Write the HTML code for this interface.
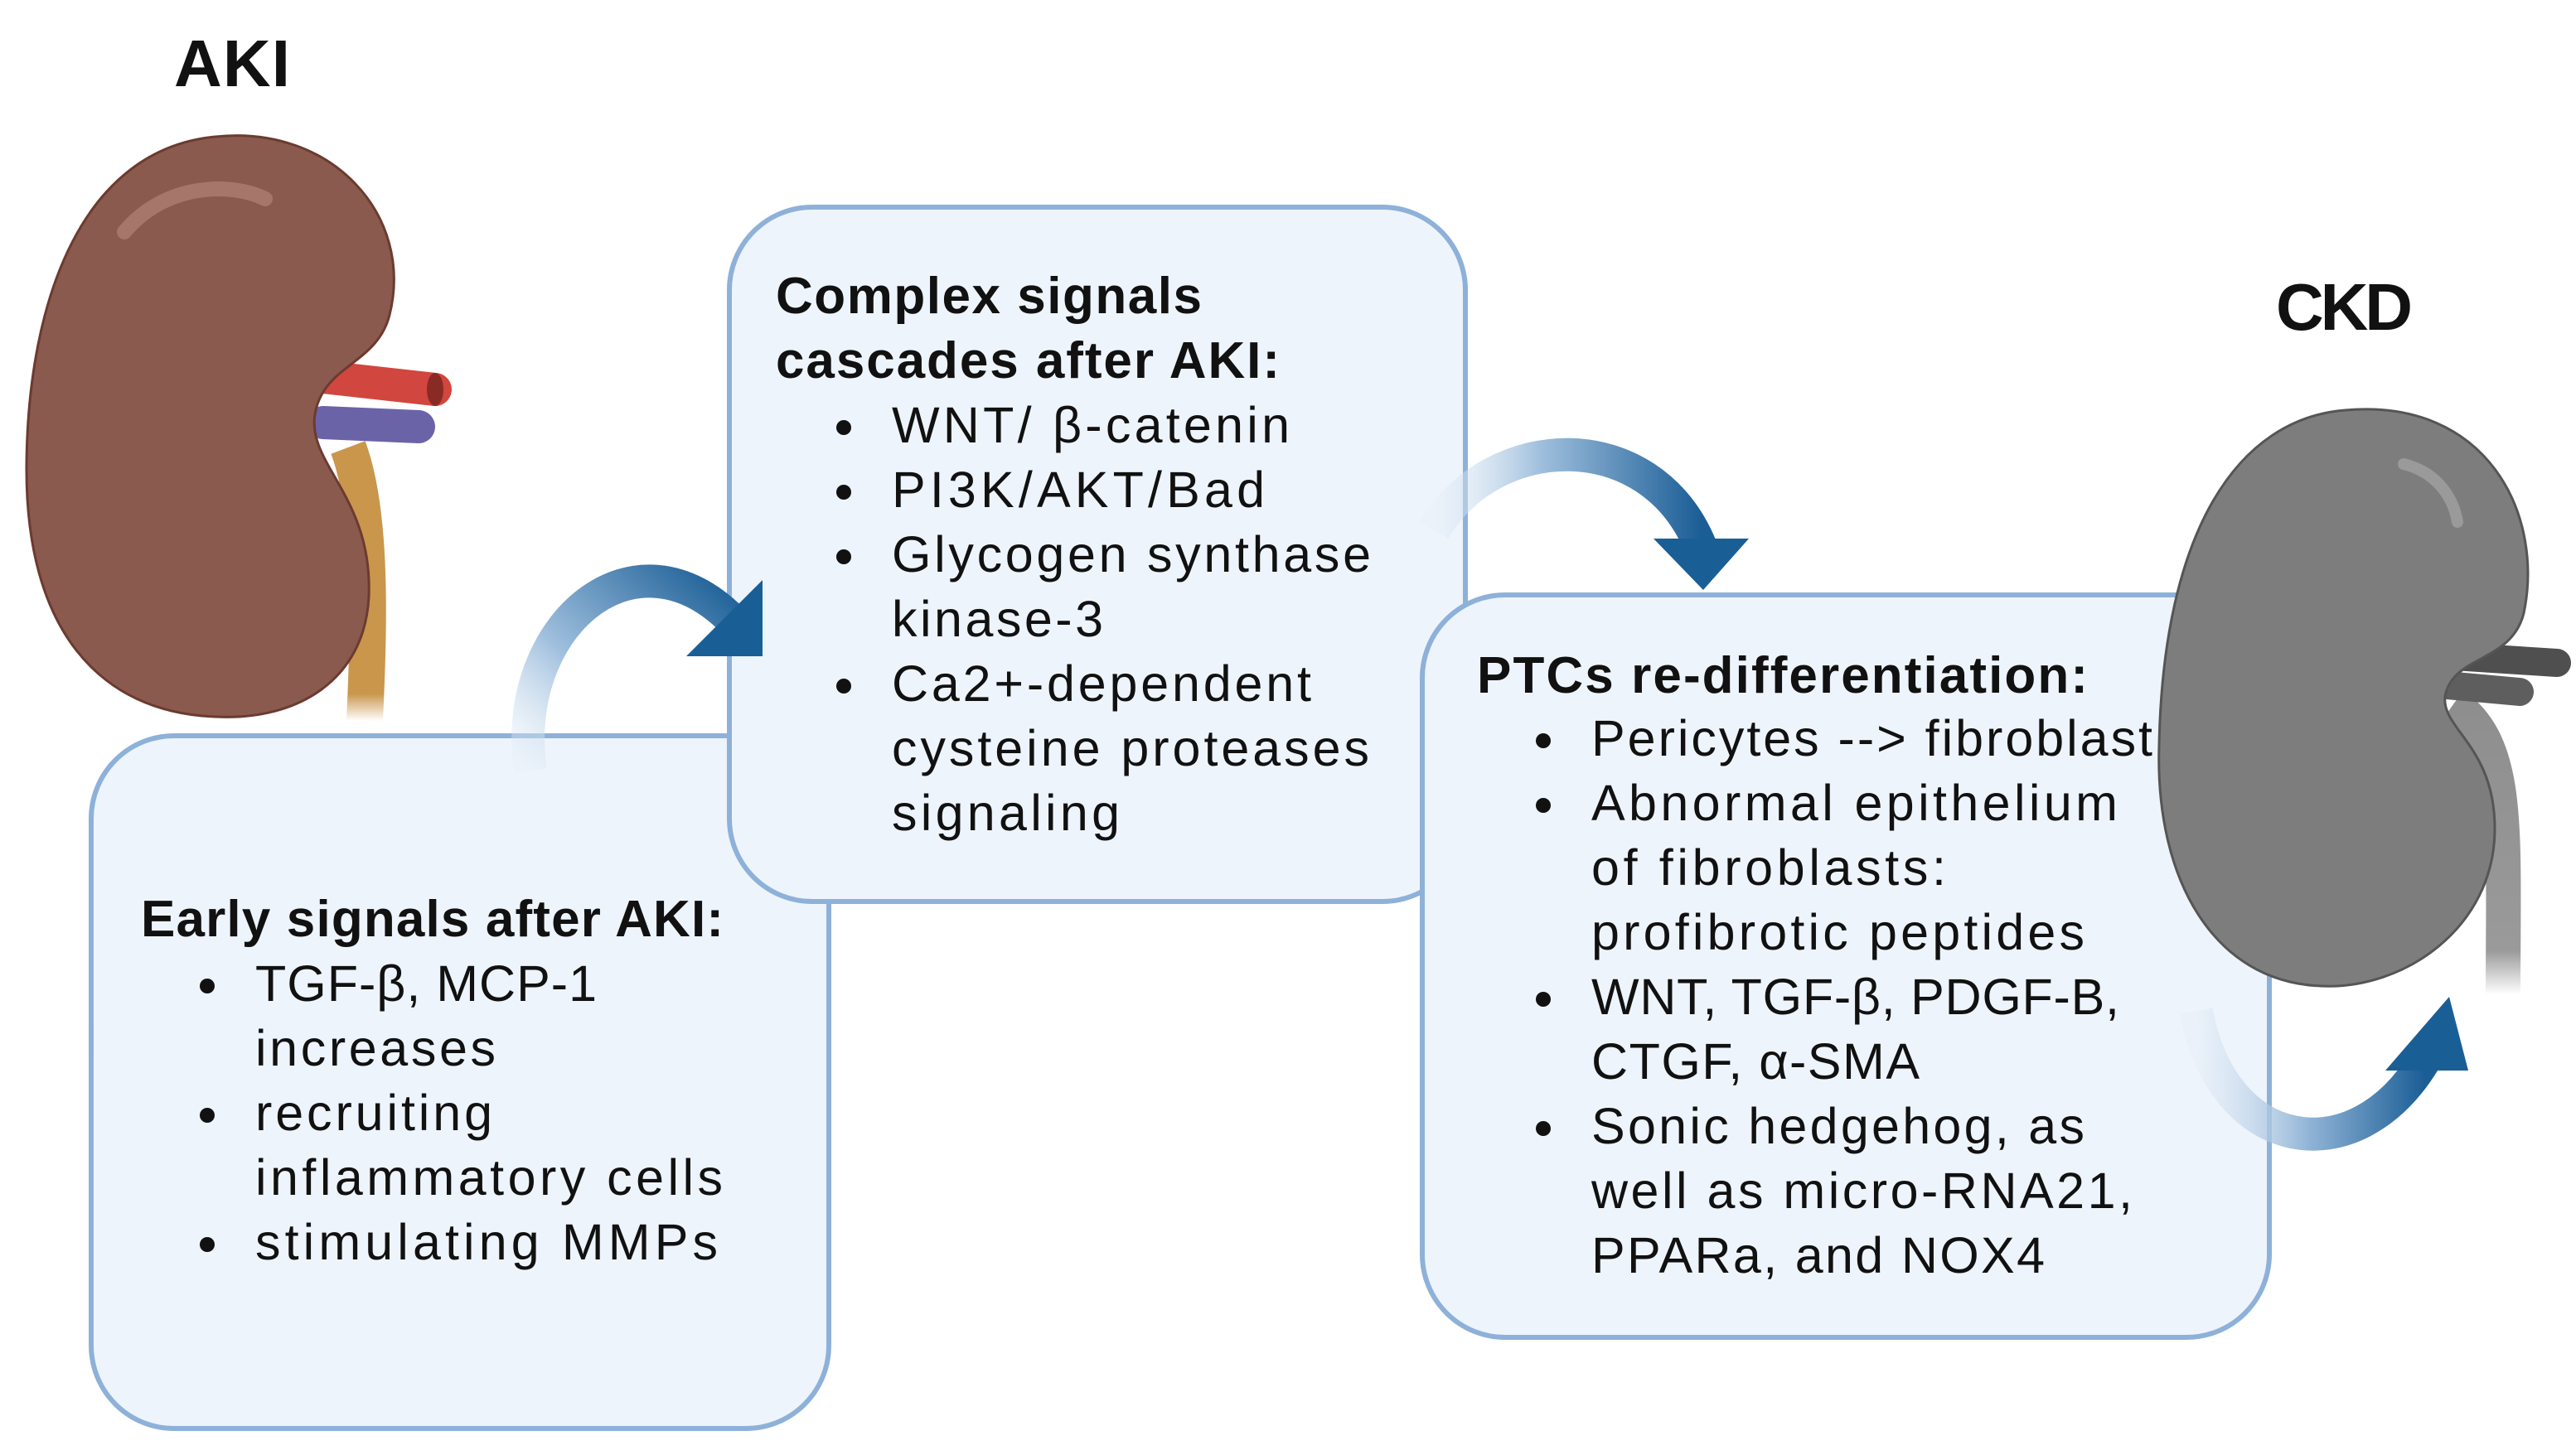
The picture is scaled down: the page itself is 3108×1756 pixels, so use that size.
<!DOCTYPE html>
<html><head><meta charset="utf-8"><style>
html,body{margin:0;padding:0;background:#fff}
svg{display:block}
text{font-family:"Liberation Sans",Arial,sans-serif;fill:#111}
.h{font-weight:bold;font-size:62px}
.t{font-size:61px}
</style></head><body>
<svg width="3108" height="1756" viewBox="0 0 3108 1756" xmlns="http://www.w3.org/2000/svg">
<defs>
<linearGradient id="g1" x1="0" y1="1" x2="1" y2="0"><stop offset="0" stop-color="#e3edf7" stop-opacity="0.3"/><stop offset="0.4" stop-color="#9fbfdd"/><stop offset="1" stop-color="#1b5e96"/></linearGradient>
<linearGradient id="g2" x1="0" y1="0" x2="1" y2="0"><stop offset="0" stop-color="#e3edf7" stop-opacity="0.3"/><stop offset="0.4" stop-color="#9fbfdd"/><stop offset="1" stop-color="#1b5e96"/></linearGradient>
<linearGradient id="g3" x1="0" y1="0" x2="1" y2="0"><stop offset="0" stop-color="#e3edf7" stop-opacity="0.4"/><stop offset="0.5" stop-color="#8fb3d6"/><stop offset="1" stop-color="#1b5e96"/></linearGradient>
<linearGradient id="ur" x1="0" y1="0" x2="0" y2="1"><stop offset="0" stop-color="#c9964c"/><stop offset="0.9" stop-color="#c9964c"/><stop offset="1" stop-color="#c9964c" stop-opacity="0"/></linearGradient>
<linearGradient id="ug" x1="0" y1="0" x2="0" y2="1"><stop offset="0" stop-color="#8e8e8e"/><stop offset="0.85" stop-color="#9a9a9a"/><stop offset="1" stop-color="#9a9a9a" stop-opacity="0"/></linearGradient>
</defs>

<!-- AKI kidney -->
<text x="210" y="104" style="font-weight:bold;font-size:80px" textLength="140">AKI</text>
<path d="M420 540 C 450 620 445 760 440 870" fill="none" stroke="url(#ur)" stroke-width="44"/>
<path d="M390 455 L525 470" stroke="#d1463e" stroke-width="40" stroke-linecap="round"/>
<ellipse cx="525" cy="470" rx="10" ry="20" fill="#8a2a25"/>
<path d="M390 510 L505 515" stroke="#6b63a8" stroke-width="40" stroke-linecap="round"/>
<path d="M260 165 C 400 150 500 260 470 380 C 455 440 390 440 380 500 C 370 560 450 600 445 720 C 440 820 360 870 260 865 C 120 860 30 760 32 560 C 34 360 100 180 260 165 Z" fill="#8b5a4e" stroke="#6b3b30" stroke-width="3"/>
<path d="M150 280 C 200 220 280 220 320 240" fill="none" stroke="#a7766a" stroke-width="18" stroke-linecap="round"/>

<!-- Box1 -->
<rect x="110" y="888" width="890" height="836" rx="100" fill="#eef4fb" stroke="#8eb1d9" stroke-width="6"/>
<text class="h" x="170" y="1130" textLength="703">Early signals after AKI:</text>
<circle cx="250" cy="1190" r="9" fill="#111"/><circle cx="250" cy="1346" r="9" fill="#111"/><circle cx="250" cy="1502" r="9" fill="#111"/>
<text class="t" x="308" y="1208" textLength="412">TGF-β, MCP-1</text>
<text class="t" x="308" y="1286" textLength="290">increases</text>
<text class="t" x="308" y="1364" textLength="286">recruiting</text>
<text class="t" x="308" y="1442" textLength="564">inflammatory cells</text>
<text class="t" x="308" y="1520" textLength="558">stimulating MMPs</text>

<!-- Box2 -->
<rect x="880" y="250" width="888" height="838" rx="100" fill="#eef4fb" stroke="#8eb1d9" stroke-width="6"/>
<text class="h" x="936" y="378" textLength="514">Complex signals</text>
<text class="h" x="936" y="456" textLength="608">cascades after AKI:</text>
<circle cx="1018" cy="516" r="9" fill="#111"/><circle cx="1018" cy="594" r="9" fill="#111"/><circle cx="1018" cy="672" r="9" fill="#111"/><circle cx="1018" cy="828" r="9" fill="#111"/>
<text class="t" x="1076" y="534" textLength="480">WNT/ β-catenin</text>
<text class="t" x="1076" y="612" textLength="450">PI3K/AKT/Bad</text>
<text class="t" x="1076" y="690" textLength="578">Glycogen synthase</text>
<text class="t" x="1076" y="768" textLength="255">kinase-3</text>
<text class="t" x="1076" y="846" textLength="506">Ca2+-dependent</text>
<text class="t" x="1076" y="924" textLength="576">cysteine proteases</text>
<text class="t" x="1076" y="1002" textLength="275">signaling</text>

<!-- Arrow1 (on top of boxes) -->
<path d="M640 930 C 615 760 760 630 880 745" fill="none" stroke="url(#g1)" stroke-width="40"/>
<polygon points="920,700 828,792 920,792" fill="#1a5e96"/>

<!-- Arrow2 -->
<path d="M1730 640 C 1800 520 1990 510 2052 660" fill="none" stroke="url(#g2)" stroke-width="40"/>
<polygon points="1995,650 2110,650 2055,712" fill="#1a5e96"/>

<!-- Box3 -->
<rect x="1716" y="718" width="1022" height="896" rx="100" fill="#eef4fb" stroke="#8eb1d9" stroke-width="6"/>
<text class="h" x="1782" y="836" textLength="737">PTCs re-differentiation:</text>
<circle cx="1862" cy="894" r="9" fill="#111"/><circle cx="1862" cy="972" r="9" fill="#111"/><circle cx="1862" cy="1206" r="9" fill="#111"/><circle cx="1862" cy="1362" r="9" fill="#111"/>
<text class="t" x="1920" y="912" textLength="677">Pericytes --&gt; fibroblast</text>
<text class="t" x="1920" y="990" textLength="635">Abnormal epithelium</text>
<text class="t" x="1920" y="1068" textLength="428">of fibroblasts:</text>
<text class="t" x="1920" y="1146" textLength="595">profibrotic peptides</text>
<text class="t" x="1920" y="1224" textLength="637">WNT, TGF-β, PDGF-B,</text>
<text class="t" x="1920" y="1302" textLength="396">CTGF, α-SMA</text>
<text class="t" x="1920" y="1380" textLength="595">Sonic hedgehog, as</text>
<text class="t" x="1920" y="1458" textLength="653">well as micro-RNA21,</text>
<text class="t" x="1920" y="1536" textLength="547">PPARa, and NOX4</text>

<!-- CKD kidney -->
<text x="2746" y="398" style="font-weight:bold;font-size:80px" textLength="165">CKD</text>
<path d="M2960 850 C 3030 900 3020 1000 3020 1200" fill="none" stroke="url(#ug)" stroke-width="42"/>
<path d="M2930 790 L3085 800" stroke="#4f4f4f" stroke-width="34" stroke-linecap="round"/>
<path d="M2930 825 L3040 835" stroke="#5e5e5e" stroke-width="34" stroke-linecap="round"/>
<path d="M2830 495 C 3000 480 3070 620 3045 740 C 3030 800 2960 790 2950 840 C 2945 880 3010 900 3010 1000 C 3010 1120 2900 1195 2800 1190 C 2670 1185 2600 1060 2605 900 C 2610 640 2700 505 2830 495 Z" fill="#7d7d7d" stroke="#555" stroke-width="3"/>
<path d="M2900 560 C 2940 570 2960 600 2965 630" fill="none" stroke="#9a9a9a" stroke-width="14" stroke-linecap="round"/>

<!-- Arrow3 -->
<path d="M2650 1220 C 2680 1390 2840 1420 2925 1280" fill="none" stroke="url(#g3)" stroke-width="40"/>
<polygon points="2955,1203 2878,1292 2978,1292" fill="#1a5e96"/>
</svg>
</body></html>
